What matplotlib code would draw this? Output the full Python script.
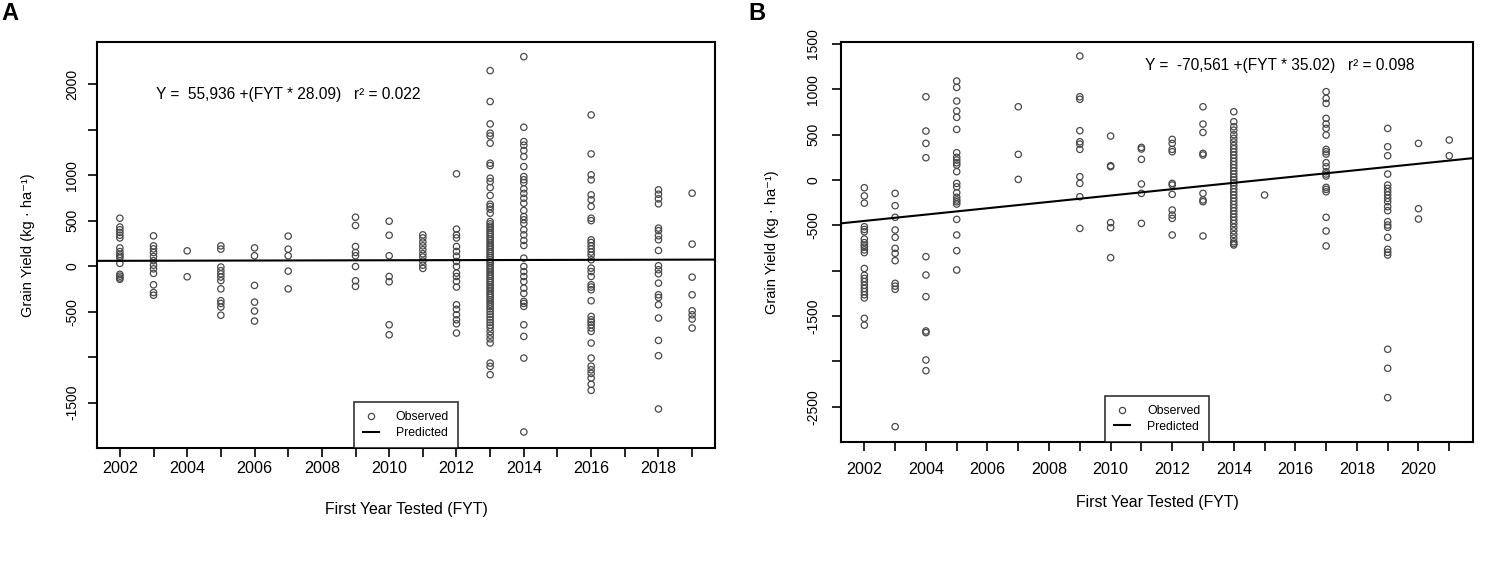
import numpy as np
import matplotlib
matplotlib.use('Agg')
from matplotlib import pyplot as plt
from matplotlib.lines import Line2D

plt.rcParams['font.family'] = ['Liberation Sans', 'DejaVu Sans']

PT_COLOR = '#4a4a4a'

# ---- panel A: observed grain yield deviations by first year tested
obs_a = {
    2002: [527, 430, 400, 370, 340, 310, 200, 160, 130, 110, 90, 30, -90, -110, -130, -145],
    2003: [333, 223, 190, 150, 106, 60, 10, -30, -80, -205, -290, -320],
    2004: [168, -117],
    2005: [223, 187, -10, -50, -85, -120, -160, -250, -380, -410, -450, -540],
    2006: [201, 114, -212, -396, -494, -604],
    2007: [330, 187, 114, -55, -250],
    2009: [538, 447, 216, 150, 114, -4, -161, -223],
    2010: [494, 340, 114, -114, -172, -645, -755],
    2011: [344, 310, 265, 223, 180, 136, 100, 55, 10, -25],
    2012: [1015, 407, 344, 310, 216, 161, 110, 51, -4, -77, -114, -168, -230,
           -425, -475, -535, -590, -634, -736],
    2013: [2150, 1810, 1564, 1462, 1432, 1352, 1132, 1106, 967, 930, 864, 777,
           681, 656, 626, 582, 490, 465, 440, 420, 395, 370, 350, 325, 300,
           280, 255, 230, 210, 185, 160, 140, 115, 95, 70, 50, 30, 5, -20,
           -40, -65, -90, -110, -135, -160, -180, -205, -230, -250, -275,
           -300, -320, -345, -370, -395, -420, -445, -470, -500, -530, -560,
           -590, -620, -650, -680, -720, -760, -800, -845, -1066, -1103, -1194],
    2014: [2304, 1527, 1370, 1330, 1271, 1205, 1095, 985, 950, 919, 850, 800,
           747, 692, 612, 546, 510, 470, 399, 344, 282, 227, 88, -4, -60,
           -114, -170, -242, -300, -388, -410, -443, -645, -773, -1011, -1824],
    2016: [1663, 1234, 1004, 949, 784, 730, 656, 527, 500, 289, 260, 225, 190,
           155, 120, 70, -22, -60, -114, -205, -230, -260, -381, -553, -590,
           -615, -645, -680, -718, -846, -1011, -1100, -1140, -1180, -1230,
           -1300, -1366],
    2018: [839, 791, 740, 685, 418, 390, 333, 290, 172, 4, -40, -84, -187,
           -315, -345, -425, -571, -817, -985, -1571],
    2019: [802, 242, -121, -315, -491, -535, -582, -681],
}
line_a_x = [2001.32, 2019.68]
line_a_y = [58, 72]
xlim_a = (2001.32, 2019.68)
ylim_a = (-2000, 2465)

# ---- panel B
obs_b = {
    2002: [-85, -175, -255, -515, -545, -570, -650, -690, -720, -740, -770, -800,
           -975, -1050, -1085, -1120, -1160, -1195, -1230, -1265, -1300, -1525, -1600],
    2003: [-147, -283, -411, -551, -632, -753, -808, -889, -1139, -1170, -1205, -2719],
    2004: [918, 540, 404, 246, -845, -1047, -1286, -1664, -1682, -1984, -2102],
    2005: [1091, 1021, 871, 761, 691, 558, 301, 250, 220, 190, 165, 92, -37,
           -75, -140, -190, -220, -240, -265, -434, -606, -779, -992],
    2007: [808, 283, 7],
    2009: [1367, 918, 890, 544, 422, 396, 338, 37, -37, -184, -533],
    2010: [485, 158, 147, -470, -525, -856],
    2011: [360, 342, 228, -44, -147, -478],
    2012: [448, 404, 338, 312, -37, -55, -158, -331, -386, -423, -606],
    2013: [808, 617, 525, 294, 276, -147, -220, -239, -617],
    2014: [753, 643, 588, 550, 500, 460, 420, 380, 345, 310, 275, 240, 205, 170,
           135, 100, 65, 30, 0, -30, -60, -95, -130, -165, -200, -235, -270,
           -305, -340, -375, -410, -445, -480, -520, -560, -600, -640, -680,
           -700, -716],
    2015: [-165],
    2017: [974, 900, 845, 680, 617, 570, 496, 338, 312, 286, 191, 147, 92, 66,
           44, -81, -103, -129, -411, -562, -727],
    2019: [569, 367, 268, 66, -55, -92, -129, -165, -202, -239, -294, -338,
           -459, -496, -521, -632, -764, -797, -827, -1866, -2076, -2399],
    2020: [404, -316, -430],
    2021: [441, 268],
}
line_b_x = [2001.24, 2021.78]
line_b_y = [-70561 + 35.02 * x for x in line_b_x]
xlim_b = (2001.24, 2021.78)
ylim_b = (-2885, 1525)

fig = plt.figure(figsize=(14.85, 5.66), dpi=100)
ax_a = fig.add_axes([0.0653, 0.2085, 0.4162, 0.7173])
ax_b = fig.add_axes([0.5663, 0.2196, 0.4258, 0.7067])


def draw_panel(ax, obs, lx, ly, xlim, ylim, xticks, xlabels, yticks, ylabels,
               eq, eq_xy, xpad, ypad):
    for yr, vals in obs.items():
        ax.scatter([yr] * len(vals), vals, s=21, facecolors='none',
                   edgecolors=PT_COLOR, linewidths=0.9, zorder=2)
    ax.plot(lx, ly, color='black', lw=1.5, zorder=3)
    ax.set_xlim(xlim)
    ax.set_ylim(ylim)
    ax.set_xticks(xticks)
    ax.set_xticklabels(xlabels, fontsize=11.6)
    ax.set_yticks(yticks)
    ax.set_yticklabels(ylabels, fontsize=10, rotation=90, va='center')
    ax.tick_params(axis='x', length=6.5, width=1.2, pad=xpad)
    ax.tick_params(axis='y', length=6.5, width=1.2, pad=ypad)
    for sp in ax.spines.values():
        sp.set_linewidth(1.5)
    ax.text(eq_xy[0], eq_xy[1], eq, ha='center', va='center', fontsize=11.2)
    handles = [Line2D([], [], ls='none', marker='o', mfc='none', mec=PT_COLOR,
                      ms=4.5, mew=0.9),
               Line2D([], [], color='black', lw=1.5)]
    leg = ax.legend(handles, ['Observed', 'Predicted'], loc='lower center',
                    fontsize=8.8, frameon=True, fancybox=False,
                    borderaxespad=0, handlelength=1.3, labelspacing=0.3,
                    borderpad=0.75, handletextpad=1.4)
    leg.get_frame().set_edgecolor('black')
    leg.get_frame().set_linewidth(1.2)


yrs_a = list(range(2002, 2020))
draw_panel(ax_a, obs_a, line_a_x, line_a_y, xlim_a, ylim_a,
           yrs_a, [str(y) if y % 2 == 0 else '' for y in yrs_a],
           list(range(-1500, 2001, 500)),
           ['-1500', '', '-500', '0', '500', '1000', '', '2000'],
           'Y =  55,936 +(FYT * 28.09)   r\u00b2 = 0.022', (2007.0, 1890),
           3.0, 6.3)

yrs_b = list(range(2002, 2022))
draw_panel(ax_b, obs_b, line_b_x, line_b_y, xlim_b, ylim_b,
           yrs_b, [str(y) if y % 2 == 0 else '' for y in yrs_b],
           list(range(-2500, 1501, 500)),
           ['-2500', '', '-1500', '', '-500', '0', '500', '1000', '1500'],
           'Y =  -70,561 +(FYT * 35.02)   r\u00b2 = 0.098', (2015.48, 1260),
           8.2, 8.4)

ylab = 'Grain Yield (kg \u00b7 ha\u207b\u00b9)'
xlab = 'First Year Tested (FYT)'
ax_a.text(-0.1117, 0.5, ylab, transform=ax_a.transAxes, rotation=90,
          ha='center', va='center', fontsize=10.5)
ax_b.text(-0.1096, 0.5, ylab, transform=ax_b.transAxes, rotation=90,
          ha='center', va='center', fontsize=10.5)
ax_a.text(0.5, -0.1527, xlab, transform=ax_a.transAxes, ha='center',
          va='center', fontsize=11.4)
ax_b.text(0.5, -0.151, xlab, transform=ax_b.transAxes, ha='center',
          va='center', fontsize=11.4)

fig.text(10 / 1485, 1 - 13.5 / 566, 'A', fontsize=17, fontweight='bold',
         ha='center', va='center')
fig.text(757 / 1485, 1 - 14 / 566, 'B', fontsize=17, fontweight='bold',
         ha='center', va='center')

fig.savefig('out.png', dpi=100)
